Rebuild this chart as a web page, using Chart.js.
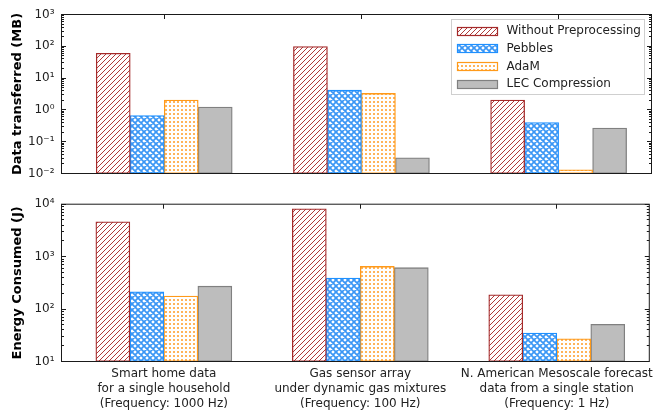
<!DOCTYPE html>
<html>
<head>
<meta charset="utf-8">
<script src="https://cdn.jsdelivr.net/npm/chart.js@4.4.1/dist/chart.umd.min.js"></script>
<style>
  html, body { margin: 0; padding: 0; background: #fff; }
  #wrap { position: relative; width: 659px; height: 410px; }
  canvas { position: absolute; left: 0; }
</style>
</head>
<body>
<div id="wrap">
  <canvas id="mbChart" width="659" height="190" style="top:0"></canvas>
  <canvas id="energyChart" width="659" height="220" style="top:190px"></canvas>
</div>
<script>
// Datasets (one group of bars per data source)
const categories = [
  ["Smart home data", "for a single household", "(Frequency: 1000 Hz)"],
  ["Gas sensor array", "under dynamic gas mixtures", "(Frequency: 100 Hz)"],
  ["N. American Mesoscale forecast", "data from a single station", "(Frequency: 1 Hz)"]
];
const seriesNames = ["Without Preprocessing", "Pebbles", "AdaM", "LEC Compression"];

// Data transferred (MB)
const mbWithout = [60, 98, 2.05];
const mbPebbles = [0.66, 4.2, 0.40];
const mbAdam    = [2.05, 3.3, 0.013];
const mbLec     = [1.22, 0.031, 0.27];

// Energy consumed (J)
const energyWithout = [4600, 8200, 187];
const energyPebbles = [213, 390, 35];
const energyAdam    = [177, 650, 27];
const energyLec     = [273, 615, 51];

// Decade tick labels
const mbTicks = [0.01, 0.1, 1, 10, 100, 1000];
const energyTicks = [10, 100, 1000, 10000];

const FONT = "'DejaVu Sans', 'Liberation Sans', sans-serif";
const SUP = { "0": "\u2070", "1": "\u00b9", "2": "\u00b2", "3": "\u00b3", "4": "\u2074",
              "5": "\u2075", "6": "\u2076", "7": "\u2077", "8": "\u2078", "9": "\u2079", "-": "\u207b" };
function powerLabel(v) {
  const e = String(Math.round(Math.log10(v)));
  return "10" + e.split("").map(ch => SUP[ch]).join("");
}

// Fill patterns
function makePattern(size, draw) {
  const c = document.createElement("canvas");
  c.width = c.height = size;
  const g = c.getContext("2d");
  draw(g, size);
  return g.createPattern(c, "repeat");
}
const hatchRed = makePattern(5, (g, s) => {
  g.fillStyle = "#fff"; g.fillRect(0, 0, s, s);
  g.strokeStyle = "#b03a3a"; g.lineWidth = 1;
  g.beginPath();
  for (let k = -1; k <= 1; k++) { g.moveTo(k * s - 1, s + 1); g.lineTo(k * s + s + 1, -1); }
  g.stroke();
});
const crossBlue = makePattern(6, (g, s) => {
  g.fillStyle = "#fff"; g.fillRect(0, 0, s, s);
  g.strokeStyle = "#3a96f5"; g.lineWidth = 1.7;
  g.beginPath();
  for (let k = -1; k <= 1; k++) {
    g.moveTo(k * s - 1, s + 1); g.lineTo(k * s + s + 1, -1);
    g.moveTo(k * s - 1, -1); g.lineTo(k * s + s + 1, s + 1);
  }
  g.stroke();
});
const dotsOrange = makePattern(4, (g, s) => {
  g.fillStyle = "#fff"; g.fillRect(0, 0, s, s);
  g.fillStyle = "#ffb45a"; g.fillRect(1, 1, 2, 2);
});

const seriesStyles = [
  { fill: hatchRed,   edge: "#a52a2a" },
  { fill: crossBlue,  edge: "#1e90ff" },
  { fill: dotsOrange, edge: "#ff9a1a" },
  { fill: "#bdbdbd",  edge: "#808080" }
];

function makeDatasets(series) {
  return series.map((vals, i) => ({
    label: seriesNames[i],
    data: vals.map((v, j) => ({ x: j, y: v })),
    backgroundColor: seriesStyles[i].fill,
    borderColor: seriesStyles[i].edge,
    borderWidth: 1.3,
    borderSkipped: false,
    barThickness: 34
  }));
}

// Axes box with inward log ticks on both sides and category ticks along the top
const framePlugin = {
  id: "frame",
  afterDatasetsDraw(chart) {
    const { ctx, chartArea: a, scales } = chart;
    const y = scales.y, x = scales.x;
    ctx.save();
    ctx.strokeStyle = "#1a1a1a";
    ctx.lineWidth = 1;
    ctx.strokeRect(a.left, a.top, a.right - a.left, a.bottom - a.top);
    ctx.beginPath();
    const lo = Math.round(Math.log10(y.min)), hi = Math.round(Math.log10(y.max));
    for (let e = lo; e <= hi; e++) {
      for (let m = 1; m <= 9; m++) {
        const v = m * Math.pow(10, e);
        if (v > y.max * 1.0001) break;
        const py = Math.round(y.getPixelForValue(v) - 0.5) + 0.5;
        const len = m === 1 ? 4.5 : 2.5;
        ctx.moveTo(a.left, py); ctx.lineTo(a.left + len, py);
        ctx.moveTo(a.right, py); ctx.lineTo(a.right - len, py);
      }
    }
    categories.forEach((c, i) => {
      const px = Math.round(x.getPixelForValue(i) - 0.5) + 0.5;
      ctx.moveTo(px, a.top); ctx.lineTo(px, a.top + 4.5);
    });
    ctx.stroke();
    ctx.restore();
  }
};

// Framed legend in the upper right of the top panel
const boxLegend = {
  id: "boxLegend",
  afterDraw(chart, args, opts) {
    if (!opts.show) return;
    const { ctx } = chart;
    const x0 = 451.5, y0 = 19.5, w = 193, h = 75;
    ctx.save();
    ctx.fillStyle = "#fff";
    ctx.fillRect(x0, y0, w, h);
    ctx.strokeStyle = "#cfcfcf";
    ctx.lineWidth = 1;
    ctx.strokeRect(x0, y0, w, h);
    ctx.font = "12px " + FONT;
    ctx.textBaseline = "middle";
    chart.data.datasets.forEach((ds, i) => {
      const cy = 30.5 + i * 17.7;
      const top = Math.round(cy - 4) + 0.5;
      ctx.fillStyle = ds.backgroundColor;
      ctx.fillRect(457.5, top, 40, 8);
      ctx.strokeStyle = ds.borderColor;
      ctx.lineWidth = 1.2;
      ctx.strokeRect(457.5, top, 40, 8);
      ctx.fillStyle = "#222";
      ctx.fillText(ds.label, 506.5, cy + 0.5);
    });
    ctx.restore();
  }
};

function buildChart(id, series, yMin, yMax, yTicks, yTitle, opt) {
  return new Chart(document.getElementById(id), {
    type: "bar",
    data: { datasets: makeDatasets(series) },
    plugins: [framePlugin, boxLegend],
    options: {
      responsive: false,
      animation: false,
      devicePixelRatio: 1,
      layout: { padding: { top: opt.padTop, right: 7.5, left: 0, bottom: 0 } },
      plugins: {
        legend: { display: false },
        tooltip: { enabled: false },
        boxLegend: { show: opt.legend }
      },
      scales: {
        x: {
          type: "linear",
          offset: false,
          min: -0.521,
          max: 2.471,
          grid: { display: false, drawTicks: false },
          border: { display: false },
          afterBuildTicks: s => { s.ticks = categories.map((c, i) => ({ value: i })); },
          ticks: {
            display: opt.xLabels,
            autoSkip: false,
            maxRotation: 0,
            padding: 5,
            color: "#222",
            font: { family: FONT, size: 12, lineHeight: 1.25 },
            callback: (v, i) => categories[i]
          },
          afterFit: s => { s.height = opt.xHeight; }
        },
        y: {
          type: "logarithmic",
          min: yMin,
          max: yMax,
          grid: { display: false, drawTicks: false },
          border: { display: false },
          afterBuildTicks: s => { s.ticks = yTicks.map(v => ({ value: v })); },
          ticks: {
            autoSkip: false,
            padding: 7,
            color: "#222",
            font: { family: FONT, size: 12 },
            callback: v => powerLabel(v)
          },
          title: {
            display: true,
            text: yTitle,
            color: "#000",
            font: { family: FONT, size: 13, weight: "bold" },
            padding: { top: 10, bottom: 0 }
          },
          afterFit: s => { s.width = 61.5; }
        }
      }
    }
  });
}

buildChart("mbChart", [mbWithout, mbPebbles, mbAdam, mbLec], 0.01, 1000, mbTicks,
  "Data transferred (MB)", { padTop: 14.5, xHeight: 16.5, xLabels: false, legend: true });
buildChart("energyChart", [energyWithout, energyPebbles, energyAdam, energyLec], 10, 10000, energyTicks,
  "Energy Consumed (J)", { padTop: 13.5, xHeight: 48.5, xLabels: true, legend: false });
</script>
</body>
</html>
